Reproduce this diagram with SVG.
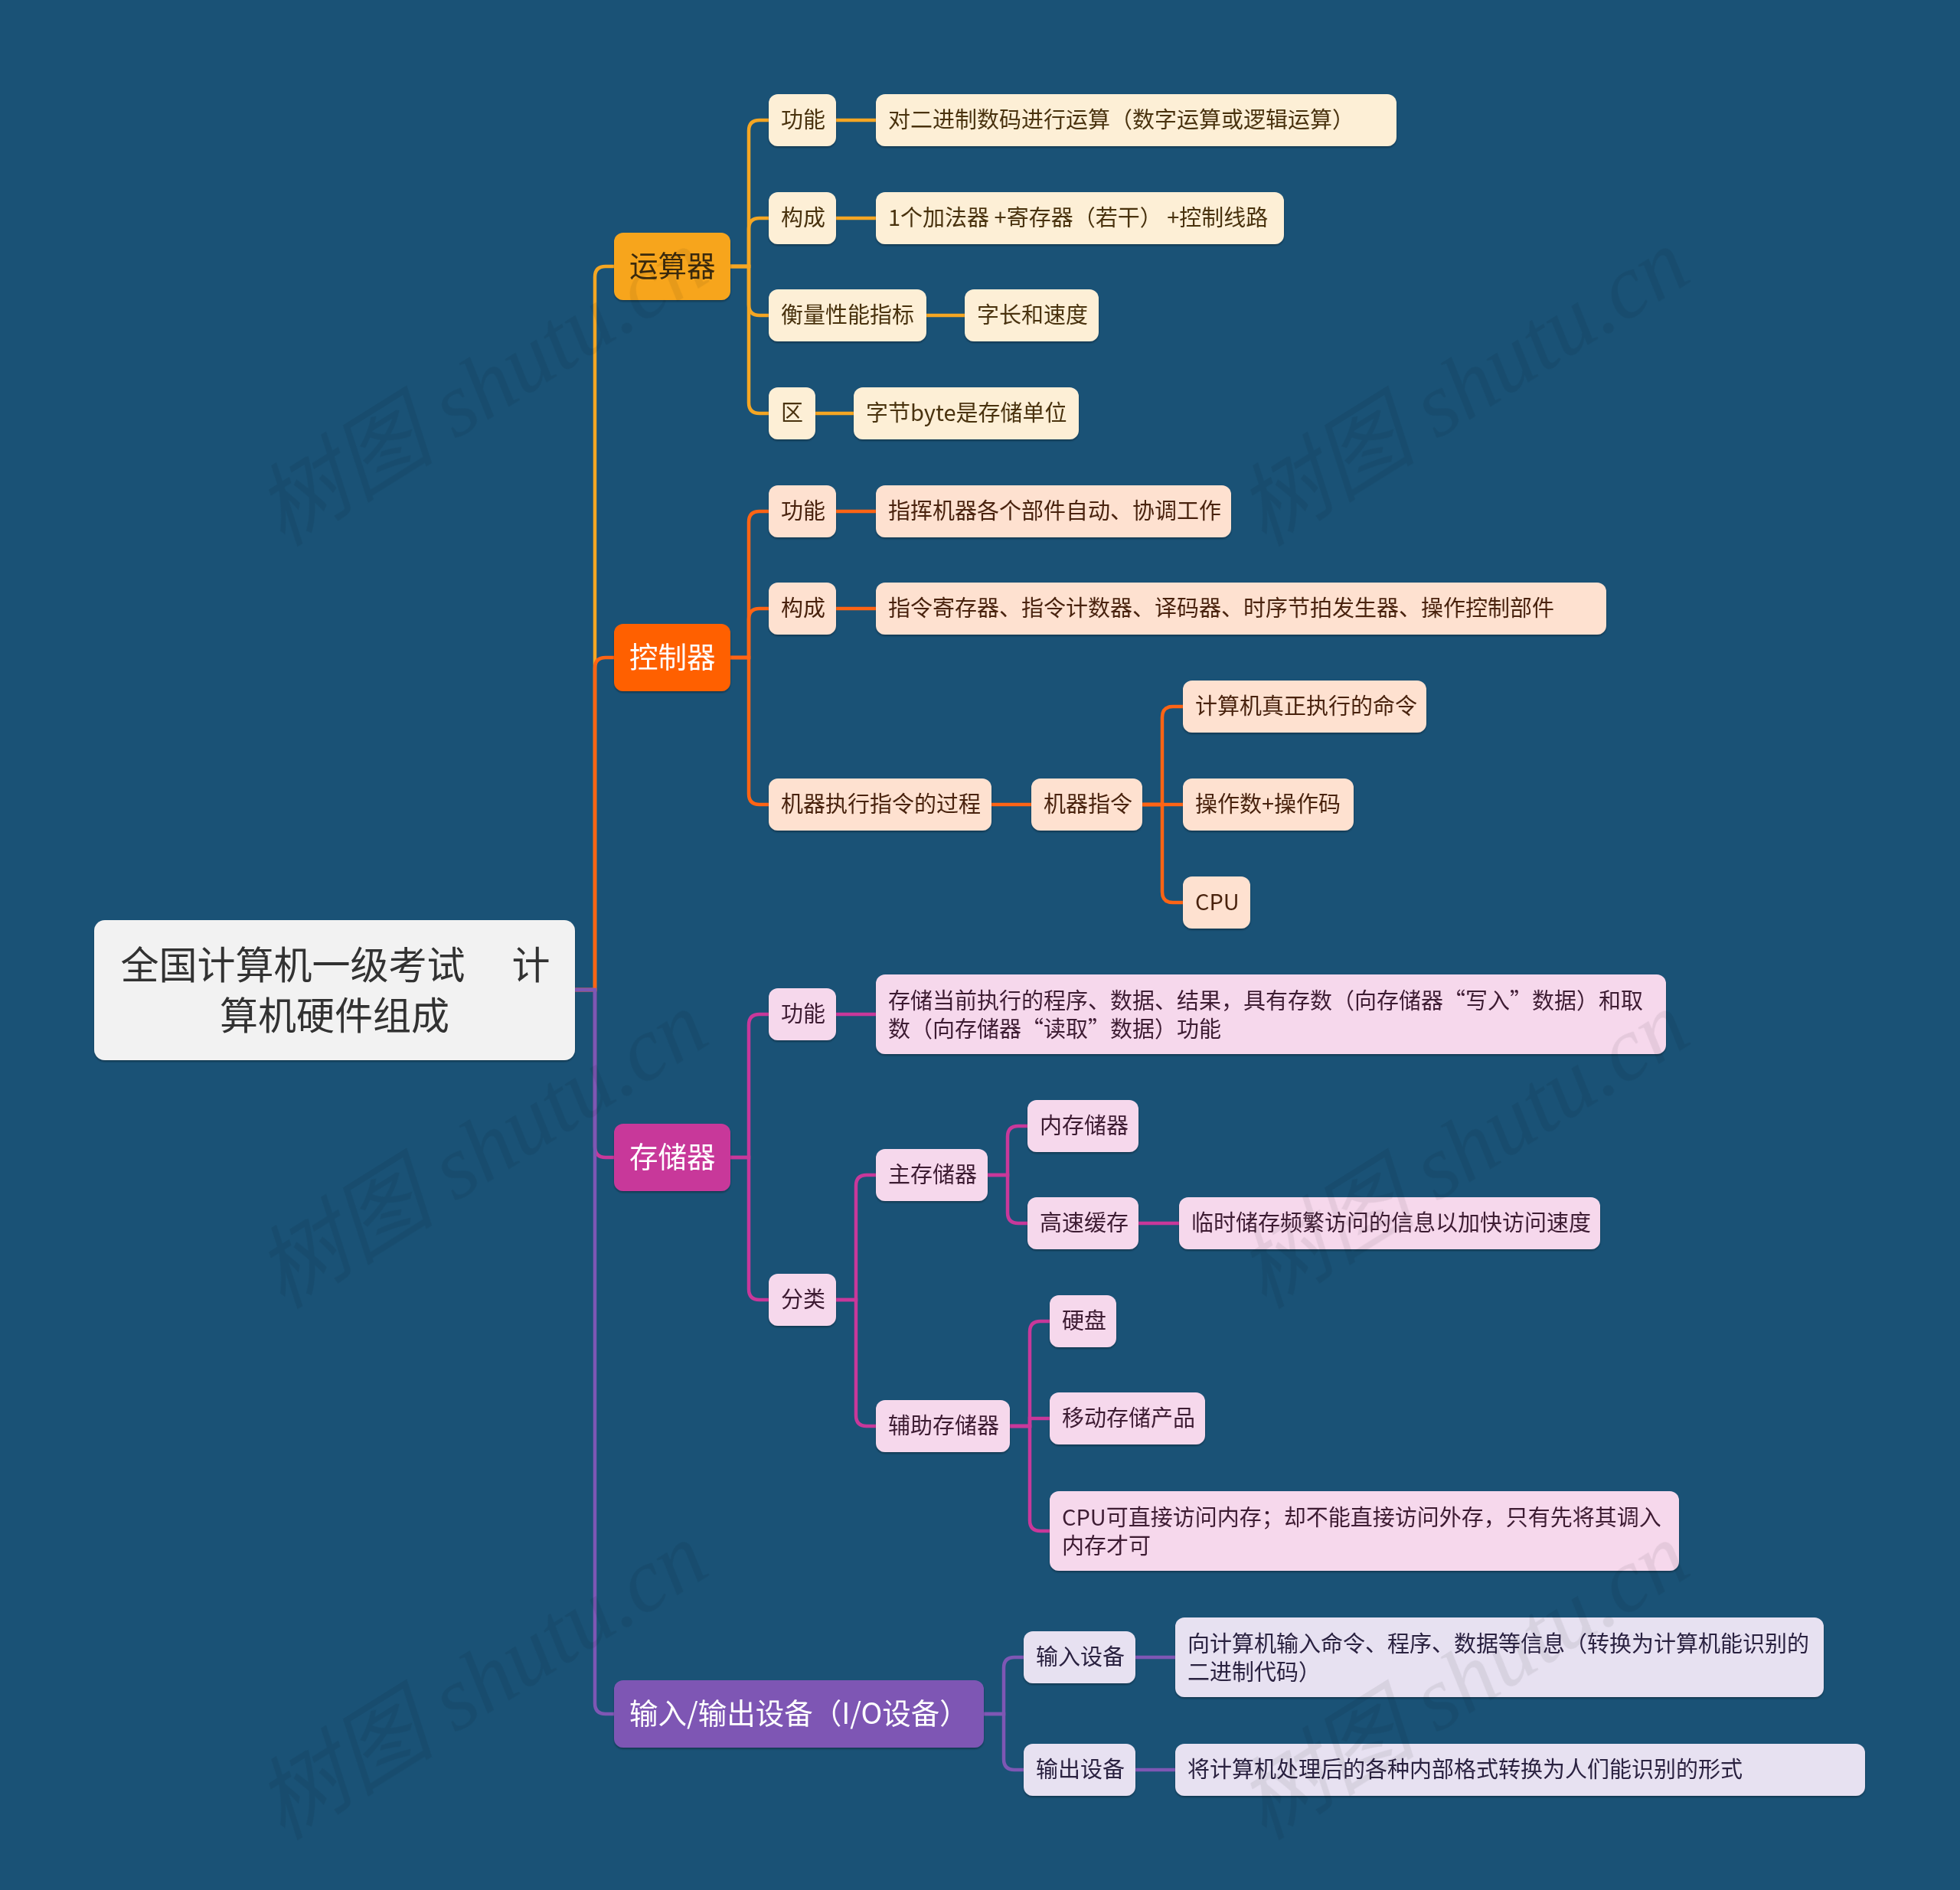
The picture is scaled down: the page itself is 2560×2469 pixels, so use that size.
<svg xmlns="http://www.w3.org/2000/svg" width="2560" height="2469" viewBox="0 0 2560 2469">
<style>
text{font-family:"Noto Sans CJK SC","Noto Sans",sans-serif;}
.root rect{fill:#F2F2F2;}
.root text{font-size:50px;fill:#333333;text-anchor:middle;}
.l1 text{font-size:37.5px;fill:#FFFFFF;}
.n text{font-size:29px;}
.y rect{fill:#FDEFD6;} .y text{fill:#4A3311;}
.o rect{fill:#FEE1D0;} .o text{fill:#4A2410;}
.p rect{fill:#F6D8EC;} .p text{fill:#3D1A33;}
.v rect{fill:#E7E1F1;} .v text{fill:#2A2040;}
.c path{fill:none;stroke-width:4.5;stroke-linecap:round;}
.cy{stroke:#F5A623;} .co{stroke:#FF6414;} .cp{stroke:#C8389A;} .cv{stroke:#7E57B4;}
.wm text{font-family:"Liberation Serif","Noto Sans CJK SC",serif;font-style:italic;font-size:118px;fill:#000;text-anchor:middle;}
.q{font-feature-settings:"fwid";}
</style>
<defs>
<filter id="sh" x="-5%" y="-10%" width="110%" height="130%">
<feDropShadow dx="0" dy="2" stdDeviation="1.2" flood-color="#000" flood-opacity="0.3"/>
</filter>
</defs>
<rect width="2560" height="2469" fill="#1A5276"/>

<g class="c" id="connectors">
<path class="cy" d="M751,1293 H777 V362 Q777,348 791,348 H802"/>
<path class="co" d="M751,1293 H777 V873 Q777,859 791,859 H802"/>
<path class="cp" d="M751,1293 H777 V1498 Q777,1512 791,1512 H802"/>
<path class="cv" d="M751,1293 H777 V2225 Q777,2239 791,2239 H802"/>
<path class="cy" d="M954,348 H978 V171 Q978,157 992,157 H1004"/>
<path class="cy" d="M954,348 H978 V299 Q978,285 992,285 H1004"/>
<path class="cy" d="M954,348 H978 V398 Q978,412 992,412 H1004"/>
<path class="cy" d="M954,348 H978 V526 Q978,540 992,540 H1004"/>
<path class="cy" d="M1092,157 H1144"/>
<path class="cy" d="M1092,285 H1144"/>
<path class="cy" d="M1210,412 H1260"/>
<path class="cy" d="M1065,540 H1115"/>
<path class="co" d="M954,859 H978 V682 Q978,668 992,668 H1004"/>
<path class="co" d="M954,859 H978 V809 Q978,795 992,795 H1004"/>
<path class="co" d="M954,859 H978 V1037 Q978,1051 992,1051 H1004"/>
<path class="co" d="M1092,668 H1144"/>
<path class="co" d="M1092,795 H1144"/>
<path class="co" d="M1295,1051 H1347"/>
<path class="co" d="M1492,1051 H1518 V937 Q1518,923 1532,923 H1545"/>
<path class="co" d="M1492,1051 H1545"/>
<path class="co" d="M1492,1051 H1518 V1165 Q1518,1179 1532,1179 H1545"/>
<path class="cp" d="M954,1512 H978 V1339 Q978,1325 992,1325 H1004"/>
<path class="cp" d="M954,1512 H978 V1684 Q978,1698 992,1698 H1004"/>
<path class="cp" d="M1092,1325 H1144"/>
<path class="cp" d="M1092,1698 H1118 V1549 Q1118,1535 1132,1535 H1144"/>
<path class="cp" d="M1092,1698 H1118 V1849 Q1118,1863 1132,1863 H1144"/>
<path class="cp" d="M1290,1535 H1316 V1485 Q1316,1471 1330,1471 H1342"/>
<path class="cp" d="M1290,1535 H1316 V1584 Q1316,1598 1330,1598 H1342"/>
<path class="cp" d="M1487,1598 H1540"/>
<path class="cp" d="M1319,1863 H1345 V1740 Q1345,1726 1359,1726 H1371"/>
<path class="cp" d="M1319,1863 H1345 V1853 H1371"/>
<path class="cp" d="M1319,1863 H1345 V1986 Q1345,2000 1359,2000 H1371"/>
<path class="cv" d="M1285,2239 H1311 V2179 Q1311,2165 1325,2165 H1337"/>
<path class="cv" d="M1285,2239 H1311 V2298 Q1311,2312 1325,2312 H1337"/>
<path class="cv" d="M1483,2165 H1535"/>
<path class="cv" d="M1483,2312 H1535"/>
</g>

<g id="root" class="root" filter="url(#sh)">
<rect x="123" y="1202" width="628" height="183" rx="14"/>
<text x="438" y="1279" xml:space="preserve">全国计算机一级考试　 计</text>
<text x="437" y="1345">算机硬件组成</text>
</g>

<g id="n-yunsuanqi" class="l1" filter="url(#sh)"><rect x="802" y="304" width="152" height="88" rx="12" fill="#F7A51F"/><text x="822" y="361" style="fill:#3A2A0A">运算器</text></g>
<g id="n-kongzhiqi" class="l1" filter="url(#sh)"><rect x="802" y="815" width="152" height="88" rx="12" fill="#FF6005"/><text x="822" y="872">控制器</text></g>
<g id="n-cunchuqi" class="l1" filter="url(#sh)"><rect x="802" y="1468" width="152" height="88" rx="12" fill="#C8389A"/><text x="822" y="1525">存储器</text></g>
<g id="n-io" class="l1" filter="url(#sh)"><rect x="802" y="2195" width="483" height="88" rx="12" fill="#7E57B4"/><text x="822" y="2252">输入/输出设备（I/O设备）</text></g>

<g id="n-ys-gn" class="n y" filter="url(#sh)"><rect x="1004" y="123" width="88" height="68" rx="12"/><text x="1020" y="167">功能</text></g>
<g id="n-ys-gn-1" class="n y" filter="url(#sh)"><rect x="1144" y="123" width="680" height="68" rx="12"/><text x="1160" y="167">对二进制数码进行运算（数字运算或逻辑运算）</text></g>
<g id="n-ys-gc" class="n y" filter="url(#sh)"><rect x="1004" y="251" width="88" height="68" rx="12"/><text x="1020" y="295">构成</text></g>
<g id="n-ys-gc-1" class="n y" filter="url(#sh)"><rect x="1144" y="251" width="533" height="68" rx="12"/><text x="1160" y="295" xml:space="preserve">1个加法器 +寄存器（若干） +控制线路</text></g>
<g id="n-ys-hl" class="n y" filter="url(#sh)"><rect x="1004" y="378" width="206" height="68" rx="12"/><text x="1020" y="422">衡量性能指标</text></g>
<g id="n-ys-hl-1" class="n y" filter="url(#sh)"><rect x="1260" y="378" width="175" height="68" rx="12"/><text x="1276" y="422">字长和速度</text></g>
<g id="n-ys-qu" class="n y" filter="url(#sh)"><rect x="1004" y="506" width="61" height="68" rx="12"/><text x="1020" y="550">区</text></g>
<g id="n-ys-qu-1" class="n y" filter="url(#sh)"><rect x="1115" y="506" width="294" height="68" rx="12"/><text x="1131" y="550">字节byte是存储单位</text></g>

<g id="n-kz-gn" class="n o" filter="url(#sh)"><rect x="1004" y="634" width="88" height="68" rx="12"/><text x="1020" y="678">功能</text></g>
<g id="n-kz-gn-1" class="n o" filter="url(#sh)"><rect x="1144" y="634" width="464" height="68" rx="12"/><text x="1160" y="678">指挥机器各个部件自动、协调工作</text></g>
<g id="n-kz-gc" class="n o" filter="url(#sh)"><rect x="1004" y="761" width="88" height="68" rx="12"/><text x="1020" y="805">构成</text></g>
<g id="n-kz-gc-1" class="n o" filter="url(#sh)"><rect x="1144" y="761" width="954" height="68" rx="12"/><text x="1160" y="805">指令寄存器、指令计数器、译码器、时序节拍发生器、操作控制部件</text></g>
<g id="n-kz-gc2" class="n o" filter="url(#sh)"><rect x="1004" y="1017" width="291" height="68" rx="12"/><text x="1020" y="1061">机器执行指令的过程</text></g>
<g id="n-kz-jqzl" class="n o" filter="url(#sh)"><rect x="1347" y="1017" width="145" height="68" rx="12"/><text x="1363" y="1061">机器指令</text></g>
<g id="n-kz-ml" class="n o" filter="url(#sh)"><rect x="1545" y="889" width="318" height="68" rx="12"/><text x="1561" y="933">计算机真正执行的命令</text></g>
<g id="n-kz-czs" class="n o" filter="url(#sh)"><rect x="1545" y="1017" width="223" height="68" rx="12"/><text x="1561" y="1061">操作数+操作码</text></g>
<g id="n-kz-cpu" class="n o" filter="url(#sh)"><rect x="1545" y="1145" width="88" height="68" rx="12"/><text x="1561" y="1189">CPU</text></g>

<g id="n-cc-gn" class="n p" filter="url(#sh)"><rect x="1004" y="1291" width="88" height="68" rx="12"/><text x="1020" y="1335">功能</text></g>
<g id="n-cc-gn-1" class="n p" filter="url(#sh)"><rect x="1144" y="1273" width="1032" height="104" rx="12"/><text x="1160" y="1318">存储当前执行的程序、数据、结果，具有存数（向存储器<tspan class="q">“</tspan>写入<tspan class="q">”</tspan>数据）和取</text><text x="1160" y="1355">数（向存储器<tspan class="q">“</tspan>读取<tspan class="q">”</tspan>数据）功能</text></g>
<g id="n-cc-fl" class="n p" filter="url(#sh)"><rect x="1004" y="1664" width="88" height="68" rx="12"/><text x="1020" y="1708">分类</text></g>
<g id="n-cc-zcc" class="n p" filter="url(#sh)"><rect x="1144" y="1501" width="146" height="68" rx="12"/><text x="1160" y="1545">主存储器</text></g>
<g id="n-cc-ncc" class="n p" filter="url(#sh)"><rect x="1342" y="1437" width="145" height="68" rx="12"/><text x="1358" y="1481">内存储器</text></g>
<g id="n-cc-gshc" class="n p" filter="url(#sh)"><rect x="1342" y="1564" width="145" height="68" rx="12"/><text x="1358" y="1608">高速缓存</text></g>
<g id="n-cc-gshc-1" class="n p" filter="url(#sh)"><rect x="1540" y="1564" width="550" height="68" rx="12"/><text x="1556" y="1608">临时储存频繁访问的信息以加快访问速度</text></g>
<g id="n-cc-fzcc" class="n p" filter="url(#sh)"><rect x="1144" y="1829" width="175" height="68" rx="12"/><text x="1160" y="1873">辅助存储器</text></g>
<g id="n-cc-yp" class="n p" filter="url(#sh)"><rect x="1371" y="1692" width="87" height="68" rx="12"/><text x="1387" y="1736">硬盘</text></g>
<g id="n-cc-yd" class="n p" filter="url(#sh)"><rect x="1371" y="1819" width="203" height="68" rx="12"/><text x="1387" y="1863">移动存储产品</text></g>
<g id="n-cc-cpu" class="n p" filter="url(#sh)"><rect x="1371" y="1948" width="822" height="104" rx="12"/><text x="1387" y="1993">CPU可直接访问内存；却不能直接访问外存，只有先将其调入</text><text x="1387" y="2030">内存才可</text></g>

<g id="n-io-in" class="n v" filter="url(#sh)"><rect x="1337" y="2131" width="146" height="68" rx="12"/><text x="1353" y="2175">输入设备</text></g>
<g id="n-io-in-1" class="n v" filter="url(#sh)"><rect x="1535" y="2113" width="847" height="104" rx="12"/><text x="1551" y="2158">向计算机输入命令、程序、数据等信息（转换为计算机能识别的</text><text x="1551" y="2195">二进制代码）</text></g>
<g id="n-io-out" class="n v" filter="url(#sh)"><rect x="1337" y="2278" width="146" height="68" rx="12"/><text x="1353" y="2322">输出设备</text></g>
<g id="n-io-out-1" class="n v" filter="url(#sh)"><rect x="1535" y="2278" width="901" height="68" rx="12"/><text x="1551" y="2322">将计算机处理后的各种内部格式转换为人们能识别的形式</text></g>

<g class="wm" opacity="0.07">
<text transform="translate(650,540) rotate(-32)">树图 shutu.cn</text>
<text transform="translate(1932,540) rotate(-32)">树图 shutu.cn</text>
<text transform="translate(650,1536) rotate(-32)">树图 shutu.cn</text>
<text transform="translate(1932,1536) rotate(-32)">树图 shutu.cn</text>
<text transform="translate(650,2230) rotate(-32)">树图 shutu.cn</text>
<text transform="translate(1932,2230) rotate(-32)">树图 shutu.cn</text>
</g>
</svg>
